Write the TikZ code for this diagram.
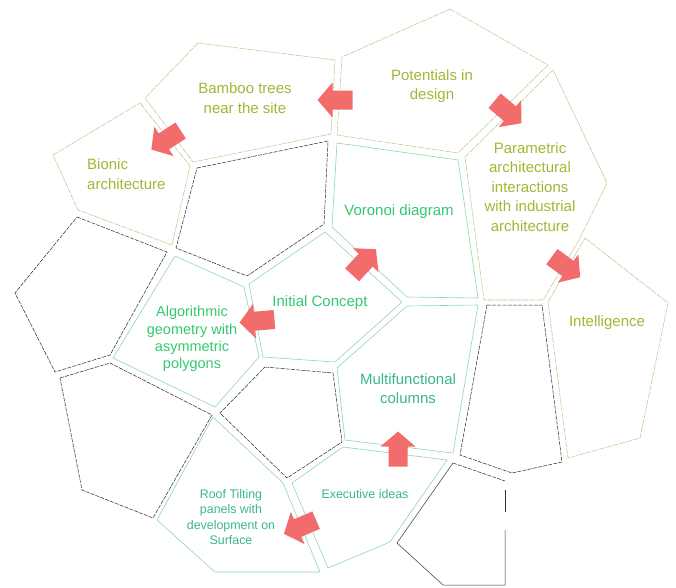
\documentclass[tikz,border=0pt]{standalone}
\usepackage{fontspec}
\setmainfont{Liberation Sans}
\definecolor{cellyellow}{RGB}{196,196,140}
\definecolor{cellgreen}{RGB}{140,214,176}
\definecolor{txtyellow}{RGB}{166,180,52}
\definecolor{txtgreen}{RGB}{52,200,112}
\definecolor{txtteal}{RGB}{56,184,132}
\definecolor{arrowred}{RGB}{242,108,108}
\tikzset{
  ycell/.style={draw=cellyellow, line width=0.55pt, dash pattern=on 6pt off 1pt},
  gcell/.style={draw=cellgreen, line width=0.6pt},
  kcell/.style={draw=black!85, line width=0.5pt, dash pattern=on 4pt off 1.2pt},
  ksolid/.style={draw=black!80, line width=0.5pt},
  ytext/.style={text=txtyellow, font=\fontsize{15}{19.5}\selectfont, align=center, inner sep=0pt},
  gtext/.style={text=txtgreen, font=\fontsize{15}{19}\selectfont, align=center, inner sep=0pt},
  ttext/.style={text=txtteal, font=\fontsize{15}{19}\selectfont, align=center, inner sep=0pt},
  stext/.style={text=txtteal, font=\fontsize{12.4}{15.3}\selectfont, align=center, inner sep=0pt},
  barrow/.pic={\fill[arrowred] (-17.5,-9.5) -- (2.5,-9.5) -- (2.5,-17.5) -- (17.5,0) -- (2.5,17.5) -- (2.5,9.5) -- (-17.5,9.5) -- cycle;}
}
\begin{document}
\begin{tikzpicture}[x=1pt,y=-1pt]
\useasboundingbox (0,0) rectangle (676,587);
% yellow cells
\draw[ycell] (198,43) -- (335,60) -- (331,134) -- (193,162) -- (145,98) -- cycle;
\draw[ycell] (140,103) -- (190,166) -- (172,245) -- (78,210) -- (53,155) -- cycle;
\draw[ycell] (450,9) -- (548,65) -- (458,153) -- (337,135) -- (342,57) -- cycle;
\draw[ycell] (553,70) -- (607,183) -- (580,238) -- (543,300) -- (484,300) -- (465,157) -- cycle;
\draw[ycell] (585,238) -- (668,303) -- (640,438) -- (568,458) -- (548,302) -- cycle;
% green cells
\draw[gcell] (337,143) -- (458,160) -- (478,298) -- (407,297) -- (332,227) -- cycle;
\draw[gcell] (325,232) -- (402,302) -- (335,362) -- (263,357) -- (249,284) -- cycle;
\draw[gcell] (175,256) -- (244,287) -- (259,357) -- (215,407) -- (113,358) -- cycle;
\draw[gcell] (407,306) -- (478,305) -- (453,453) -- (345,440) -- (337,368) -- cycle;
\draw[gcell] (292,483) -- (343,447) -- (447,460) -- (390,542) -- (328,568) -- cycle;
\draw[gcell] (213,417) -- (283,483) -- (320,572) -- (215,572) -- (157,520) -- cycle;
% empty cells
\draw[kcell] (197,168) -- (328,141) -- (324,224) -- (247,276) -- (176,248) -- cycle;
\draw[kcell] (77,217) -- (167,252) -- (110,355) -- (55,372) -- (15,293) -- cycle;
\draw[kcell] (60,378) -- (110,363) -- (212,415) -- (153,518) -- (82,490) -- cycle;
\draw[kcell] (265,367) -- (333,373) -- (342,442) -- (287,478) -- (220,413) -- cycle;
\draw[kcell] (487,305) -- (542,305) -- (562,462) -- (512,473) -- (460,455) -- cycle;
\draw[kcell] (453,463) -- (505,481);
\draw[ksolid] (505,490) -- (505,512);
\draw[ksolid] (505,530) -- (505,585) -- (443,585) -- (397,543) -- (453,463);
% texts
\node[ytext] (bamboo) at (245,98) {Bamboo trees\\near the site};
\node[ytext, align=left, anchor=west] (bionic) at (87,174) {Bionic\\architecture};
\node[ytext] (potentials) at (432,86) {Potentials in\\design};
\node[ytext] (parametric) at (530,187) {Parametric\\architectural\\interactions\\with industrial\\architecture};
\node[ytext] (intelligence) at (607,323) {Intelligence};
\node[gtext] (voronoi) at (399,212) {Voronoi diagram};
\node[gtext] (initial) at (320,303) {Initial Concept};
\node[gtext, font=\fontsize{14.5}{17.3}\selectfont] (algo) at (192,339) {Algorithmic\\geometry with\\asymmetric\\polygons};
\node[ttext] (multi) at (408,389) {Multifunctional\\columns};
\node[stext] (exec) at (365,494) {Executive ideas};
\node[stext] (roof) at (231,517) {Roof Tilting\\panels with\\development on\\Surface};
% block arrows
\pic[rotate=180] (arrA) at (335,100) {barrow};
\pic[rotate=213] (arrB) at (166,140) {barrow};
\pic[rotate=-40] (arrC) at (508,112) {barrow};
\pic[rotate=-36] (arrD) at (566,267) {barrow};
\pic[rotate=47] (arrE) at (364,262) {barrow};
\pic[rotate=185] (arrF) at (257,321) {barrow};
\pic[rotate=90] (arrG) at (398,449) {barrow};
\pic[rotate=203] (arrH) at (300,527) {barrow};
\end{tikzpicture}
\end{document}
